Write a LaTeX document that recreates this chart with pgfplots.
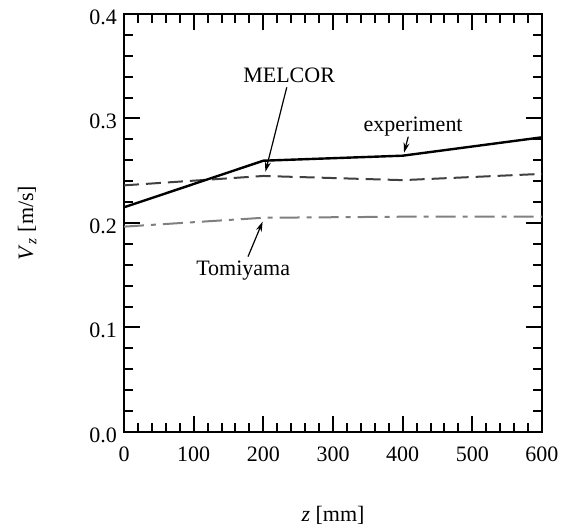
\documentclass[border=0pt]{standalone}
\usepackage{fontspec}
\setmainfont{Liberation Serif}
\usepackage{pgfplots}
\pgfplotsset{compat=1.18}
\usetikzlibrary{arrows.meta}

\begin{document}
\begin{tikzpicture}
\begin{axis}[
    width=209pt, height=209pt, scale only axis,
    xmin=0, xmax=600, ymin=0, ymax=0.4,
    xtick={0,100,200,300,400,500,600},
    ytick={0,0.1,0.2,0.3,0.4},
    minor x tick num=4, minor y tick num=4,
    tick align=inside, xtick pos=both, ytick pos=both,
    xticklabel pos=lower, yticklabel pos=left,
    major tick length=8pt, minor tick length=4.5pt,
    every tick/.style={black, line width=1pt},
    axis line style={line width=1.3pt},
    /pgf/number format/assume math mode=true,
    y tick label style={yshift=-1.5pt},
    yticklabel style={/pgf/number format/.cd, fixed, fixed zerofill, precision=1},
    tick label style={font=\fontsize{11}{13}\selectfont},
    x tick label style={yshift=-4pt},
    xlabel={\textit{z} [mm]},
    ylabel={\textit{V}\textsubscript{\textit{z}} [m/s]},
    label style={font=\fontsize{11}{13}\selectfont},
    xlabel style={at={(axis description cs:0.5,-0.199)}, anchor=center},
    ylabel style={at={(axis description cs:-0.232,0.5)}, anchor=center},
    clip=false,
]
% Tomiyama
\addplot[color=black!50, line width=1pt, dash pattern=on 10pt off 3.5pt on 2.5pt off 3.5pt]
    coordinates {(0,0.1965) (200,0.205) (400,0.206) (600,0.206)};
% MELCOR
\addplot[color=black!75, line width=1pt, dash pattern=on 7.5pt off 3.5pt]
    coordinates {(0,0.236) (200,0.245) (400,0.241) (600,0.247)};
% experiment
\addplot[color=black, line width=1.2pt]
    coordinates {(0,0.215) (200,0.2596) (400,0.2644) (600,0.282)};

\node[font=\fontsize{11}{13}\selectfont] at (axis cs:237,0.3416) {MELCOR};
\draw[line width=0.6pt, -{Stealth[length=5pt,width=3pt]}] (axis cs:233.6,0.3298) -- (axis cs:203,0.249);
\node[font=\fontsize{11}{13}\selectfont] at (axis cs:415,0.2925) {experiment};
\draw[line width=0.6pt, -{Stealth[length=5pt,width=3pt]}] (axis cs:408,0.2826) -- (axis cs:402,0.2673);
\node[font=\fontsize{11}{13}\selectfont] at (axis cs:171,0.154) {Tomiyama};
\draw[line width=0.6pt, -{Stealth[length=5pt,width=3pt]}] (axis cs:178,0.1678) -- (axis cs:199,0.2013);

\coordinate (bl) at (axis description cs:-0.2967,-0.2225);
\coordinate (tr) at (axis description cs:1.0646,1.0335);
\end{axis}
\path (bl) rectangle (tr);
\end{tikzpicture}
\end{document}
